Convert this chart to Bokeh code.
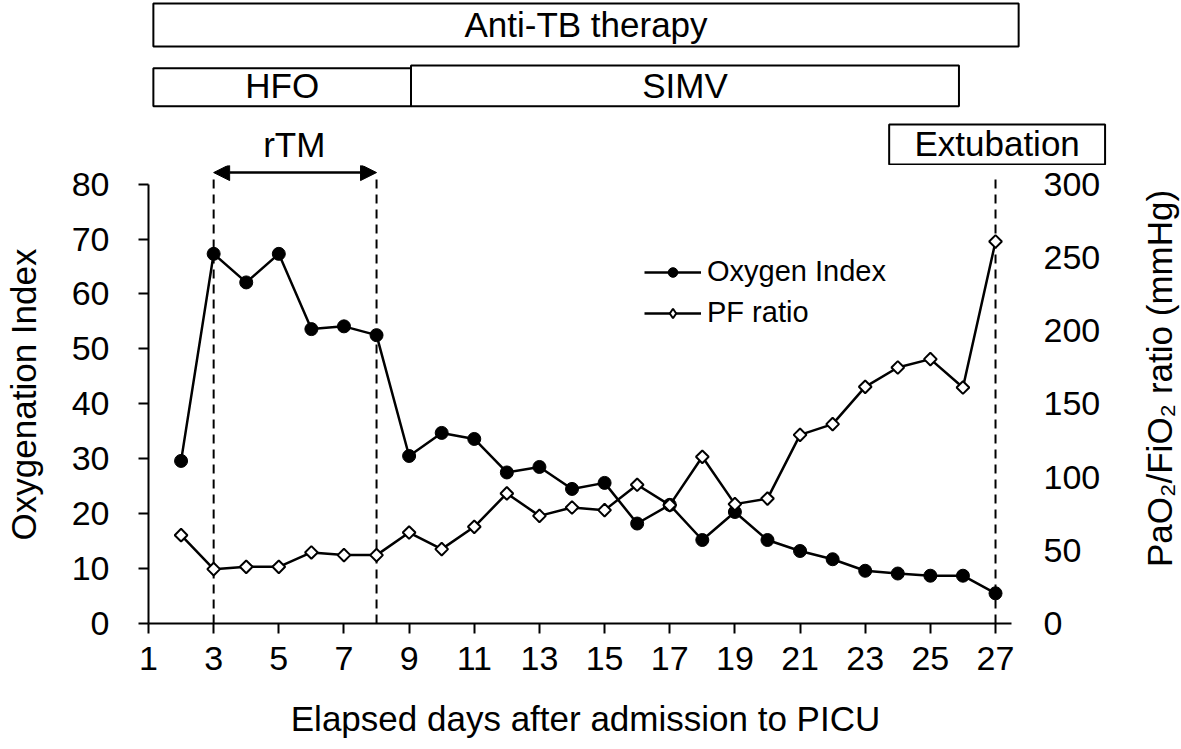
import math
from bokeh.plotting import figure
from bokeh.models import Range1d, LinearAxis, FixedTicker, Arrow, NormalHead, Legend, LegendItem
from bokeh.layouts import column, row
from bokeh.core.properties import value
from bokeh.embed import file_html
from bokeh.resources import INLINE

# ---------------- data ----------------
days = list(range(2, 28))
oxygen_index = [29.6, 67.3, 62.1, 67.3, 53.6, 54.1, 52.5, 30.5, 34.7, 33.6, 27.5, 28.5, 24.5,
                25.6, 18.2, 21.6, 15.2, 20.3, 15.2, 13.2, 11.7, 9.6, 9.1, 8.7, 8.7, 5.5]
pf_ratio = [60.3, 37.1, 38.7, 38.7, 48.5, 46.7, 46.7, 62.1, 50.8, 66.0, 88.8, 73.5, 79.2,
            77.4, 94.7, 80.8, 113.8, 81.5, 85.3, 128.8, 136.1, 161.6, 174.8, 180.5, 161.1, 260.8]
x_ticks = list(range(1, 28, 2))
oi_ticks = list(range(0, 81, 10))
pf_ticks = list(range(0, 301, 50))

period_names = ["Anti-TB therapy", "HFO", "SIMV"]
period_start = [1.18, 1.18, 9.08]
period_end = [27.71, 9.08, 25.88]
rtm_start, rtm_end = 3, 8
extubation_day = 27
event_days = [rtm_start, rtm_end, extubation_day]

x_title = "Elapsed days after admission to PICU"
y_title = "Oxygenation Index"
y2_title = "PaO\u2082/FiO\u2082 ratio (mmHg)"

# ---------------- geometry ----------------
FONT = "Liberation Sans"
W = 1180
RW = 48             # width of the right-hand title strip
MW = W - RW         # main figure width
S = 32.615          # px per day
PX_OI = 5.4925      # px per oxygen-index unit
LEFT = 147
FRAME_W = 875
RIGHT = MW - LEFT - FRAME_W
TOP_H = 165
MAIN_H = 582
BOTTOM = 124
FRAME_H = MAIN_H - BOTTOM
oi_top = FRAME_H / PX_OI


def clean(fig):
    fig.outline_line_color = None
    fig.xgrid.grid_line_color = None
    fig.ygrid.grid_line_color = None
    fig.frame_align = False
    fig.background_fill_color = "white"
    fig.border_fill_color = "white"


# ---------------- top panel (therapy bars) ----------------
top = figure(width=W, height=TOP_H, output_backend="svg", toolbar_location=None,
             x_range=Range1d(1 - LEFT / S, 1 + (W - LEFT) / S), y_range=Range1d(TOP_H, 0),
             x_axis_type=None, y_axis_type=None,
             min_border_left=0, min_border_right=0, min_border_top=0, min_border_bottom=0)
clean(top)

row_top = [3, 67.7, 65]
row_bot = [46, 105.7, 105.7]
row_txt = [24, 85, 85]
top.quad(left=period_start, right=period_end, top=row_top, bottom=row_bot,
         fill_color="white", line_color="black", line_width=2)
top.text(x=[(a + b) / 2 for a, b in zip(period_start, period_end)], y=row_txt, text=period_names,
         text_align="center", text_baseline="middle", text_font=value(FONT),
         text_font_size="35px", text_color="black")
ext_half = 3.31
top.quad(left=[extubation_day + 0.05 - ext_half], right=[extubation_day + 0.05 + ext_half],
         top=[124], bottom=[164], fill_color="white", line_color="black", line_width=2)
top.text(x=[extubation_day + 0.05], y=[143], text=["Extubation"], text_align="center",
         text_baseline="middle", text_font=value(FONT), text_font_size="35px", text_color="black")
top.text(x=[(rtm_start + rtm_end) / 2], y=[144], text=["rTM"], text_align="center",
         text_baseline="middle", text_font=value(FONT), text_font_size="35px", text_color="black")

# ---------------- main chart ----------------
p = figure(width=MW, height=MAIN_H, output_backend="svg", toolbar_location=None,
           x_range=Range1d(1, 1 + FRAME_W / S), y_range=Range1d(0, oi_top),
           min_border_left=LEFT, min_border_right=RIGHT, min_border_top=0,
           min_border_bottom=BOTTOM)
clean(p)
p.extra_y_ranges = {"pf": Range1d(0, oi_top * 3.75)}

p.segment(x0=event_days, y0=[0] * 3, x1=event_days, y1=[81.6] * 3,
          line_color="black", line_width=2, line_dash="9 6")

p.add_layout(Arrow(start=NormalHead(size=16, fill_color="black", line_color="black"),
                   end=NormalHead(size=16, fill_color="black", line_color="black"),
                   x_start=rtm_start, x_end=rtm_end, y_start=82.1, y_end=82.1,
                   line_width=2.5, line_color="black"))

oi_line = p.line(days, oxygen_index, line_color="black", line_width=2.5)
oi_pts = p.scatter(days, oxygen_index, marker="circle", size=13, fill_color="black",
                   line_color="black")
pf_line = p.line(days, pf_ratio, line_color="black", line_width=2.5, y_range_name="pf")
pf_pts = p.scatter(days, pf_ratio, marker="square", angle=math.pi / 4, size=9,
                   fill_color="white", line_color="black", line_width=2, y_range_name="pf")
# legend-only diamond glyph (no visible point in the plot)
pf_key = p.scatter([days[0]], [float("nan")], marker="diamond", size=12, fill_color="white",
                   line_color="black", line_width=2, y_range_name="pf")

legend = Legend(items=[LegendItem(label="Oxygen Index", renderers=[oi_line, oi_pts]),
                       LegendItem(label="PF ratio", renderers=[pf_line, pf_key])],
                location=(496, 294), border_line_color=None, background_fill_alpha=0,
                padding=0, margin=0, spacing=8, glyph_width=57, glyph_height=24,
                label_standoff=6, label_height=31, label_text_font=FONT,
                label_text_font_size="29px", label_text_color="black")
p.add_layout(legend)

xa = p.xaxis[0]
xa.ticker = FixedTicker(ticks=x_ticks)
xa.bounds = (1, 27.5)
xa.axis_label = x_title
ya = p.yaxis[0]
ya.ticker = FixedTicker(ticks=oi_ticks)
ya.bounds = (0, 80)
ya.axis_label = y_title

ra = LinearAxis(y_range_name="pf", ticker=FixedTicker(ticks=pf_ticks))
p.add_layout(ra, "right")

for ax in (xa, ya, ra):
    ax.axis_line_color = "black"
    ax.axis_line_width = 2
    ax.major_tick_line_color = "black"
    ax.major_tick_line_width = 2
    ax.major_tick_in = 0
    ax.major_tick_out = 10
    ax.minor_tick_line_color = None
    ax.major_label_text_font = FONT
    ax.major_label_text_font_size = "34px"
    ax.major_label_text_color = "black"
    ax.axis_label_text_font = FONT
    ax.axis_label_text_font_size = "35px"
    ax.axis_label_text_font_style = "normal"
    ax.axis_label_text_color = "black"

xa.major_label_standoff = 13
xa.axis_label_standoff = 26
ya.major_label_standoff = 29
ya.axis_label_standoff = 26
ra.axis_line_color = None
ra.major_tick_line_color = None
ra.major_tick_out = 0
ra.major_label_standoff = 21

# ---------------- right-hand title strip ----------------
rt = figure(width=RW, height=MAIN_H, output_backend="svg", toolbar_location=None,
            x_range=Range1d(0, RW), y_range=Range1d(MAIN_H, 0),
            x_axis_type=None, y_axis_type=None,
            min_border_left=0, min_border_right=0, min_border_top=0, min_border_bottom=0)
clean(rt)
rt.text(x=[26.5], y=[213], text=[y2_title], angle=math.pi / 2, text_align="center",
        text_baseline="middle", text_font=value(FONT), text_font_size="35px",
        text_color="black")

layout = column(top, row(p, rt, spacing=0), spacing=0)
open("out.html", "w").write(file_html(layout, INLINE))
